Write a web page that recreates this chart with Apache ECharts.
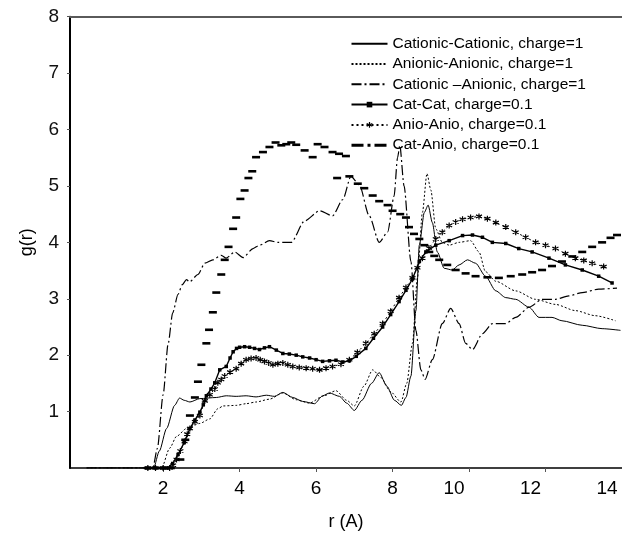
<!DOCTYPE html>
<html>
<head>
<meta charset="utf-8">
<script src="https://cdn.jsdelivr.net/npm/echarts@6.0.0/dist/echarts.min.js"></script>
<style>
  html, body { margin: 0; padding: 0; background: #fff; }
  #chart { width: 622px; height: 536px; }
</style>
</head>
<body>
<div id="chart"></div>
<script>
// tick labels
var xTicks = [2, 4, 6, 8, 10, 12, 14];
var yTicks = [1, 2, 3, 4, 5, 6, 7, 8];

var seriesNames = ['Cationic-Cationic, charge=1', 'Anionic-Anionic, charge=1', 'Cationic \u2013Anionic, charge=1',
  'Cat-Cat, charge=0.1', 'Anio-Anio, charge=0.1', 'Cat-Anio, charge=0.1'];

/*---- Cationic-Cationic, charge=1 ----*/
var ccR = [0, 1.75, 1.9, 2.09, 2.3, 2.43, 2.55, 2.7, 2.96, 3.39, 3.65, 3.91, 4.17, 4.43, 4.7, 4.91, 5.13, 5.39, 5.65, 5.96,
  6.17, 6.35, 6.61, 6.8, 7.0, 7.2, 7.45, 7.65, 7.85, 8.05, 8.23, 8.35, 8.48, 8.61, 8.7, 8.83, 8.93, 9.04, 9.17, 9.35,
  9.56, 9.74, 9.96, 10.17, 10.43, 10.7, 10.96, 11.22, 11.57, 11.83, 12.17, 12.43, 12.96, 13.48, 13.96];
var ccG = [0, 0, 0.3, 0.7, 1.11, 1.24, 1.2, 1.17, 1.23, 1.25, 1.28, 1.27, 1.28, 1.26, 1.29, 1.27, 1.34, 1.25, 1.18, 1.14,
  1.28, 1.33, 1.27, 1.15, 1.02, 1.2, 1.5, 1.69, 1.45, 1.2, 1.11, 1.25, 1.63, 2.79, 3.95, 4.53, 4.66, 4.35, 3.83, 3.54,
  3.51, 3.6, 3.69, 3.63, 3.4, 3.14, 3.02, 2.99, 2.85, 2.67, 2.67, 2.61, 2.53, 2.47, 2.44];

/*---- Anionic-Anionic, charge=1 ----*/
var aaR = [0, 1.96, 2.17, 2.35, 2.61, 2.96, 3.22, 3.43, 3.57, 3.91, 4.17, 4.43, 4.78, 5.13, 5.48, 5.83, 6.17, 6.52, 6.8, 7.0,
  7.25, 7.48, 7.7, 7.95, 8.22, 8.37, 8.52, 8.65, 8.78, 8.9, 9.0, 9.13, 9.3, 9.48, 9.74, 10.04, 10.26, 10.43, 10.7, 11.22,
  11.74, 12.26, 12.78, 13.3, 13.83];
var aaG = [0, 0, 0.35, 0.56, 0.7, 0.79, 0.87, 1.05, 1.1, 1.11, 1.14, 1.17, 1.22, 1.33, 1.21, 1.15, 1.27, 1.37, 1.2, 1.1,
  1.45, 1.74, 1.6, 1.35, 1.17, 1.5, 2.21, 3.37, 4.53, 5.22, 4.93, 4.24, 4.0, 3.95, 4.0, 4.03, 3.83, 3.48, 3.31, 3.14,
  2.99, 2.9, 2.79, 2.7, 2.61];

/*---- Cationic-Anionic, charge=1 ----*/
var caR = [0, 1.73, 1.85, 2.0, 2.13, 2.25, 2.39, 2.5, 2.61, 2.69, 2.91, 3.09, 3.3, 3.52, 3.65, 3.87, 4.09, 4.35, 4.52, 4.78,
  5.0, 5.35, 5.7, 6.09, 6.43, 6.7, 6.91, 7.13, 7.39, 7.65, 7.87, 8.04, 8.13, 8.19, 8.3, 8.48, 8.61, 8.74, 8.85, 9.04,
  9.3, 9.52, 9.74, 9.91, 10.09, 10.35, 10.61, 10.96, 11.22, 11.57, 11.91, 12.26, 12.61, 12.96, 13.39, 13.87];
var caG = [0, 0, 0.35, 1.3, 2.2, 2.75, 3.08, 3.25, 3.34, 3.3, 3.43, 3.63, 3.69, 3.77, 3.72, 3.83, 3.73, 3.89, 3.95, 4.03,
  4.0, 4.0, 4.38, 4.56, 4.47, 4.76, 5.17, 5.02, 4.47, 4.0, 4.18, 4.82, 5.5, 5.72, 5.0, 3.66, 2.44, 1.74, 1.57, 1.92,
  2.56, 2.83, 2.56, 2.21, 2.1, 2.38, 2.56, 2.56, 2.67, 2.85, 2.99, 2.99, 3.05, 3.11, 3.17, 3.19];

/*---- Cat-Cat, charge=0.1 ----*/
var cc01R = [1.6, 1.8, 2.0, 2.13, 2.25, 2.39, 2.55, 2.7, 2.83, 2.96, 3.05, 3.13, 3.25, 3.35, 3.48, 3.65, 3.75, 3.83, 3.92, 4.0,
  4.13, 4.26, 4.39, 4.52, 4.65, 4.78, 4.96, 5.13, 5.3, 5.48, 5.65, 5.83, 6.0, 6.17, 6.35, 6.52, 6.7, 6.87, 7.05, 7.3,
  7.5, 7.74, 7.95, 8.17, 8.35, 8.52, 8.7, 8.87, 9.13, 9.48, 9.83, 10.09, 10.35, 10.61, 10.96, 11.3, 11.65, 12.09, 12.52, 12.96,
  13.39, 13.74];
var cc01G = [0, 0, 0, 0, 0.08, 0.24, 0.45, 0.7, 0.85, 0.99, 1.12, 1.28, 1.4, 1.51, 1.74, 1.8, 1.95, 2.06, 2.12, 2.14,
  2.15, 2.14, 2.12, 2.1, 2.13, 2.15, 2.09, 2.03, 2.02, 2.0, 1.97, 1.95, 1.92, 1.89, 1.9, 1.91, 1.88, 1.9, 1.98, 2.12,
  2.3, 2.5, 2.72, 2.95, 3.15, 3.35, 3.66, 3.83, 3.95, 4.03, 4.12, 4.13, 4.09, 4.0, 3.98, 3.89, 3.83, 3.72, 3.6, 3.51,
  3.4, 3.28];

/*---- Anio-Anio, charge=0.1 ----*/
var aa01R = [1.6, 1.8, 2.0, 2.17, 2.26, 2.35, 2.45, 2.56, 2.63, 2.7, 2.83, 2.96, 3.09, 3.22, 3.35, 3.43, 3.52, 3.61, 3.75, 3.91,
  4.04, 4.17, 4.3, 4.43, 4.54, 4.65, 4.76, 4.87, 5.0, 5.13, 5.26, 5.39, 5.56, 5.74, 5.91, 6.09, 6.26, 6.43, 6.65, 6.87,
  7.08, 7.3, 7.52, 7.74, 7.95, 8.17, 8.35, 8.52, 8.65, 8.78, 8.95, 9.13, 9.3, 9.48, 9.65, 9.83, 10.04, 10.26, 10.48, 10.7,
  10.96, 11.22, 11.48, 11.74, 12.0, 12.26, 12.52, 12.78, 13.0, 13.22, 13.52];
var aa01G = [0, 0, 0, 0, 0.05, 0.15, 0.3, 0.47, 0.6, 0.7, 0.82, 0.93, 1.19, 1.3, 1.4, 1.51, 1.57, 1.63, 1.7, 1.76,
  1.85, 1.92, 1.94, 1.95, 1.92, 1.89, 1.86, 1.83, 1.85, 1.86, 1.83, 1.8, 1.78, 1.77, 1.76, 1.74, 1.77, 1.8, 1.84, 1.92,
  2.05, 2.21, 2.38, 2.56, 2.78, 3.02, 3.2, 3.37, 3.55, 3.72, 3.9, 4.06, 4.18, 4.3, 4.36, 4.41, 4.44, 4.46, 4.42, 4.35,
  4.27, 4.18, 4.09, 4.0, 3.95, 3.89, 3.8, 3.72, 3.68, 3.63, 3.57];

/*---- Cat-Anio, charge=0.1 ----*/
var ca01R = [1.6, 1.8, 2.0, 2.2, 2.45, 2.58, 2.7, 2.83, 2.91, 3.0, 3.13, 3.2, 3.3, 3.39, 3.52, 3.61, 3.71, 3.83, 3.91, 4.02,
  4.13, 4.23, 4.33, 4.43, 4.61, 4.78, 4.94, 5.09, 5.22, 5.35, 5.48, 5.7, 5.91, 6.04, 6.22, 6.43, 6.55, 6.6, 6.78, 6.87,
  7.09, 7.26, 7.48, 7.65, 7.87, 8.0, 8.2, 8.35, 8.43, 8.56, 8.7, 8.83, 8.96, 9.09, 9.22, 9.43, 9.65, 9.91, 10.17, 10.48,
  10.78, 11.09, 11.39, 11.65, 11.91, 12.17, 12.43, 12.7, 12.96, 13.22, 13.48, 13.7, 13.87];
var ca01G = [0, 0, 0, 0, 0.15, 0.5, 0.93, 1.25, 1.53, 1.83, 2.21, 2.45, 2.76, 3.11, 3.43, 3.69, 3.92, 4.24, 4.44, 4.77,
  4.92, 5.14, 5.26, 5.51, 5.6, 5.69, 5.77, 5.72, 5.74, 5.77, 5.73, 5.63, 5.51, 5.74, 5.69, 5.6, 5.14, 5.57, 5.53, 5.17,
  5.04, 4.96, 4.83, 4.73, 4.66, 4.56, 4.5, 4.44, 4.27, 4.15, 4.06, 3.95, 3.83, 3.76, 3.69, 3.6, 3.51, 3.45, 3.4, 3.38,
  3.37, 3.4, 3.43, 3.47, 3.51, 3.58, 3.66, 3.75, 3.83, 3.92, 4.0, 4.08, 4.13];

function pairs(xs, ys) {
  return xs.map(function (x, i) { return [x, ys[i]]; });
}

var asterisk = 'path://M5,0L5,10M0.67,2.5L9.33,7.5M0.67,7.5L9.33,2.5';
var font = "'Liberation Sans', Arial, sans-serif";
var noMark = { opacity: 0 };

var chart = echarts.init(document.getElementById('chart'), null, { renderer: 'canvas' });

var option = {
  animation: false,
  backgroundColor: '#fff',
  textStyle: { fontFamily: font, color: '#000' },
  grid: { left: 70, top: 16.7, right: -1.3, bottom: 59 },
  legend: {
    orient: 'vertical',
    left: 350,
    top: 35.7,
    padding: 0,
    itemWidth: 36,
    itemHeight: 7,
    itemGap: 4.3,
    textStyle: { fontSize: 15.5, lineHeight: 14, color: '#000', fontFamily: font },
    data: [
      { name: seriesNames[0], itemStyle: noMark },
      { name: seriesNames[1], itemStyle: noMark },
      { name: seriesNames[2], itemStyle: noMark },
      { name: seriesNames[3] },
      { name: seriesNames[4], itemStyle: { borderColor: '#000', borderWidth: 1.2 } },
      { name: seriesNames[5], itemStyle: noMark, lineStyle: { opacity: 1, width: 3, type: [12, 4, 3, 4], color: '#000' } }
    ]
  },
  xAxis: [{
    type: 'value',
    min: -0.436,
    max: 14,
    name: 'r (A)',
    nameLocation: 'middle',
    nameGap: 45,
    nameTextStyle: { fontSize: 18, color: '#000', fontFamily: font },
    splitLine: { show: false },
    axisLine: { onZero: false, lineStyle: { color: '#000', width: 1.6 } },
    axisTick: { customValues: xTicks, length: 4, lineStyle: { color: '#555' } },
    axisLabel: {
      customValues: xTicks,
      fontSize: 19,
      color: '#111',
      margin: 11,
      formatter: function (v) { return v >= 10 ? '{w|' + v + '}' : '{n|' + v + '}'; },
      rich: { w: { padding: [0, 30, 0, 0] }, n: {} }
    }
  }, {
    type: 'value',
    position: 'top',
    min: -0.436,
    max: 14,
    splitLine: { show: false },
    axisLine: { onZero: false, lineStyle: { color: '#5a5a5a', width: 2 } },
    axisTick: { show: false },
    axisLabel: { show: false }
  }],
  yAxis: {
    type: 'value',
    min: 0,
    max: 8,
    name: 'g(r)',
    nameLocation: 'middle',
    nameGap: 34,
    nameTextStyle: { fontSize: 18, color: '#000', fontFamily: font },
    splitLine: { show: false },
    axisLine: { show: true, onZero: false, lineStyle: { color: '#000', width: 2 } },
    axisTick: { show: true, customValues: yTicks, length: 3, lineStyle: { color: '#555' } },
    axisLabel: { customValues: yTicks, fontSize: 19, color: '#111', margin: 11 }
  },
  series: [
    {
      name: seriesNames[0], type: 'line', data: pairs(ccR, ccG),
      symbol: 'none', smooth: 0.25, smoothMonotone: 'x',
      lineStyle: { color: '#000', width: 1 }, itemStyle: { color: '#000' }
    },
    {
      name: seriesNames[1], type: 'line', data: pairs(aaR, aaG),
      symbol: 'none', smooth: 0.25, smoothMonotone: 'x',
      lineStyle: { color: '#000', width: 1, type: [2, 2] }, itemStyle: { color: '#000' }
    },
    {
      name: seriesNames[2], type: 'line', data: pairs(caR, caG),
      symbol: 'none', smooth: 0.25, smoothMonotone: 'x',
      lineStyle: { color: '#000', width: 1.2, type: [10, 3, 2, 3] }, itemStyle: { color: '#000' }
    },
    {
      name: seriesNames[3], type: 'line', data: pairs(cc01R, cc01G),
      symbol: 'rect', symbolSize: 3.5,
      lineStyle: { color: '#000', width: 1.4 }, itemStyle: { color: '#000' }
    },
    {
      name: seriesNames[4], type: 'line', data: pairs(aa01R, aa01G),
      symbol: asterisk, symbolSize: 6,
      lineStyle: { color: '#000', width: 1, type: [2, 3] },
      itemStyle: { color: '#000', borderColor: '#000', borderWidth: 1.2 }
    },
    {
      name: seriesNames[5], type: 'line', data: pairs(ca01R, ca01G),
      symbol: 'rect', symbolSize: [8, 2.6],
      lineStyle: { color: '#000', width: 1, opacity: 0 }, itemStyle: { color: '#000' }
    }
  ]
};

chart.setOption(option);
</script>
</body>
</html>
